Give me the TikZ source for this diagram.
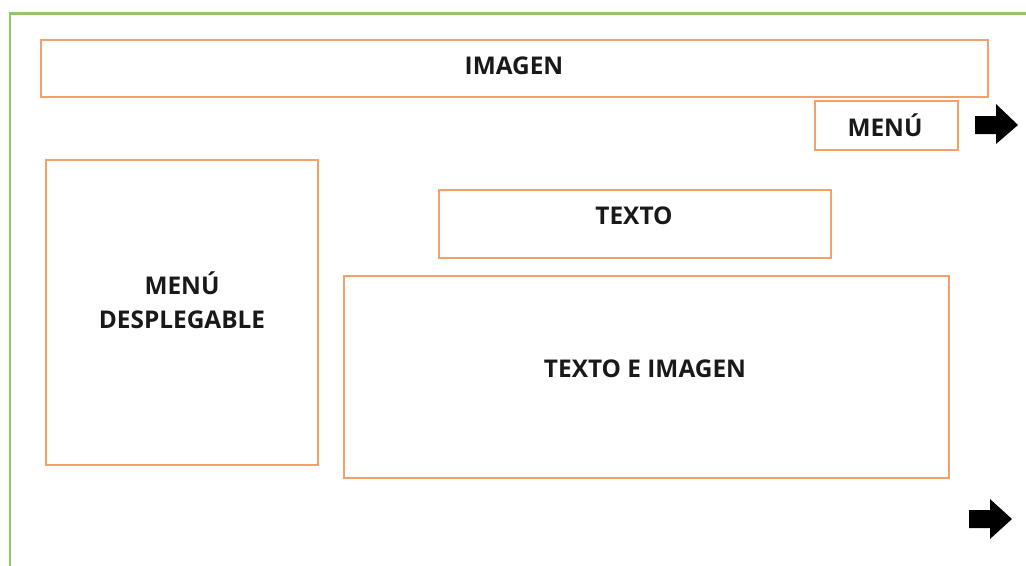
\documentclass[tikz,border=0pt]{standalone}
\usepackage{fontspec}
\setmainfont{Open Sans}
\begin{document}
\begin{tikzpicture}[x=0.75pt,y=-0.75pt,
  frame/.style={draw=frameGreen,line width=1.6pt},
  panel/.style={draw=panelOrange,line width=1.2pt},
  lbl/.style={font=\bfseries\fontsize{18.3}{25.5}\selectfont,text=black!90,align=center,inner sep=0pt},
  navarrow/.style={fill=black,draw=none}]
\definecolor{frameGreen}{HTML}{92C86A}
\definecolor{panelOrange}{HTML}{F4A06A}
\useasboundingbox (0,0) rectangle (1026,565);
% outer page frame (open to the right and bottom)
\draw[frame] (10,570) -- (10,13.5) -- (1030,13.5);
% layout panels
\draw[panel] (41,40) rectangle (988,97);
\draw[panel] (815,101) rectangle (958,150);
\draw[panel] (46,160) rectangle (318,465);
\draw[panel] (439,190) rectangle (831,258);
\draw[panel] (344,276) rectangle (949,478);
% panel labels
\node[lbl] (imagen) at (514,66) {IMAGEN};
\node[lbl] (menu) at (885,125) {MENÚ};
\node[lbl] (texto) at (634,216) {TEXTO};
\node[lbl] (desp) at (182,300) {MENÚ\\DESPLEGABLE};
\node[lbl] (textoimg) at (645,369) {TEXTO E IMAGEN};
% navigation arrows
\fill[navarrow] (975,116) -- (996,116) -- (996,104) -- (1018,125) -- (996,144) -- (996,134) -- (975,134) -- cycle;
\fill[navarrow] (969,510) -- (990,510) -- (990,499) -- (1012,519) -- (990,539) -- (990,528) -- (969,528) -- cycle;
\end{tikzpicture}
\end{document}
